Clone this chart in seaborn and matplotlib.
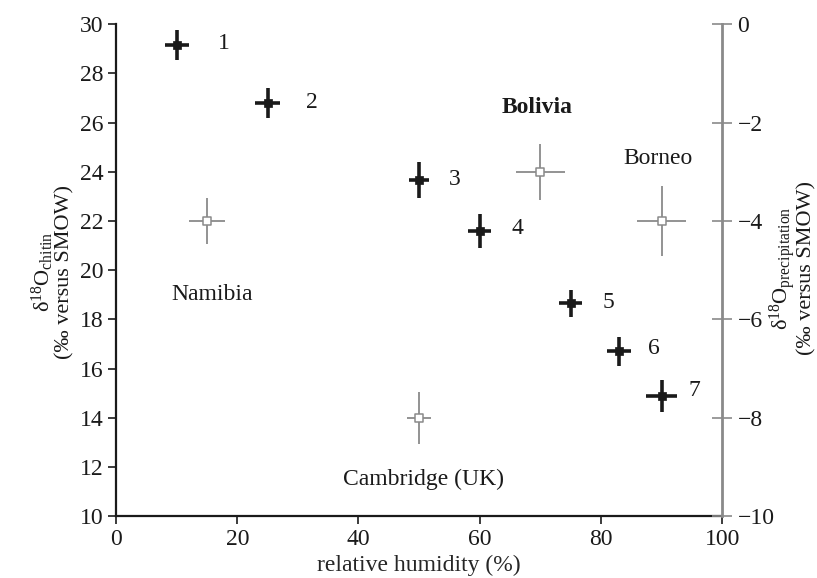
import matplotlib
matplotlib.use("Agg")
import matplotlib.pyplot as plt
import seaborn as sns
import pandas as pd

# Chitin data (left axis)
chitin_rh = [10, 25, 50, 60, 75, 83, 90]
chitin_d18o = [29.15, 26.8, 23.65, 21.6, 18.65, 16.7, 14.9]
chitin_xerr = [2.0, 2.0, 1.7, 1.9, 1.9, 2.0, 2.6]
chitin_yerr = [0.6, 0.6, 0.73, 0.7, 0.55, 0.6, 0.65]
chitin_labels = ["1", "2", "3", "4", "5", "6", "7"]

# Precipitation data (right axis)
precip_sites = ["Namibia", "Bolivia", "Borneo", "Cambridge (UK)"]
precip_rh = [15, 70, 90, 50]
precip_d18o = [-4.0, -3.0, -4.0, -8.0]
precip_xerr = [3.0, 4.0, 4.0, 2.0]
precip_yerr = [0.47, 0.57, 0.71, 0.53]

sns.set_style("ticks")
plt.rcParams['font.family'] = ['Liberation Serif', 'DejaVu Serif']
plt.rcParams['mathtext.fontset'] = 'custom'
plt.rcParams['mathtext.rm'] = 'Liberation Serif'
plt.rcParams['mathtext.it'] = 'Liberation Serif:italic'

fs = 17
fig = plt.figure(figsize=(8.17, 5.78), dpi=100)
ax = fig.add_axes([0.142, 0.107, 0.742, 0.851])
ax2 = ax.twinx()

df1 = pd.DataFrame({"rh": chitin_rh, "d": chitin_d18o})
df2 = pd.DataFrame({"rh": precip_rh, "d": precip_d18o})

ax.errorbar(chitin_rh, chitin_d18o, xerr=chitin_xerr, yerr=chitin_yerr,
            fmt='none', ecolor='#1a1a1a', elinewidth=2.6, capsize=0, zorder=3)
sns.scatterplot(data=df1, x="rh", y="d", ax=ax, marker='s', s=40,
                color='#1a1a1a', edgecolor='#1a1a1a', zorder=4)

ax2.errorbar(precip_rh, precip_d18o, xerr=precip_xerr, yerr=precip_yerr,
             fmt='none', ecolor='#8a8a8a', elinewidth=1.3, capsize=0, zorder=3)
sns.scatterplot(data=df2, x="rh", y="d", ax=ax2, marker='s', s=36,
                facecolor='white', edgecolor='#8a8a8a', linewidth=1.1, zorder=4)

ax.set_xlim(0, 100)
ax.set_ylim(10, 30)
ax2.set_ylim(-10, 0)
ax.set_xticks([0, 20, 40, 60, 80, 100])
ax.set_yticks(range(10, 31, 2))
ax2.set_yticks(range(-10, 1, 2))
ax2.set_yticklabels([("\u2212%d" % abs(v)) if v < 0 else str(v) for v in range(-10, 1, 2)])

for a in (ax, ax2):
    a.set_xlabel("")
    a.set_ylabel("")
    a.spines['top'].set_visible(False)

ax.spines['right'].set_visible(False)
ax2.spines['left'].set_visible(False)
ax2.spines['bottom'].set_visible(False)
ax.spines['left'].set_color('#1a1a1a')
ax.spines['bottom'].set_color('#1a1a1a')
ax.spines['left'].set_linewidth(1.6)
ax.spines['bottom'].set_linewidth(1.6)
ax2.spines['right'].set_color('#8a8a8a')
ax2.spines['right'].set_linewidth(2.0)

ax.tick_params(axis='both', labelsize=fs, direction='out', length=6, width=1.2,
               colors='#1a1a1a', pad=3)
ax2.tick_params(axis='y', labelsize=fs, direction='inout', length=14, width=1.2,
                color='#8a8a8a', labelcolor='#1a1a1a', pad=4)

ax.set_xlabel("relative humidity (%)", fontsize=fs, labelpad=4)
fig.text(52 / 817, 1 - 272 / 578,
         "δ$^{18}$O$_{\\rm chitin}$\n(‰ versus SMOW)", fontsize=16,
         rotation=90, ha='center', va='center', linespacing=0.95, color='#1a1a1a')
fig.text(792 / 817, 1 - 268 / 578,
         "δ$^{18}$O$_{\\rm precipitation}$\n(‰ versus SMOW)", fontsize=16,
         rotation=90, ha='center', va='center', linespacing=0.95, color='#1a1a1a')

# point labels
lab_x = [17.8, 32.3, 55.9, 66.2, 81.2, 88.8, 95.4]
lab_y = [29.2, 26.8, 23.7, 21.7, 18.7, 16.8, 15.1]
for t, x, y in zip(chitin_labels, lab_x, lab_y):
    ax.text(x, y, t, fontsize=fs, ha='center', va='center', color='#1a1a1a')

site_x = [15.8, 69.5, 89.4, 50.7]
site_y = [19.0, 26.6, 24.55, 11.5]
site_w = ['normal', 'bold', 'normal', 'normal']
for t, x, y, w in zip(precip_sites, site_x, site_y, site_w):
    ax.text(x, y, t, fontsize=fs, ha='center', va='center', color='#1a1a1a', fontweight=w)

fig.savefig("out.png", dpi=100)
